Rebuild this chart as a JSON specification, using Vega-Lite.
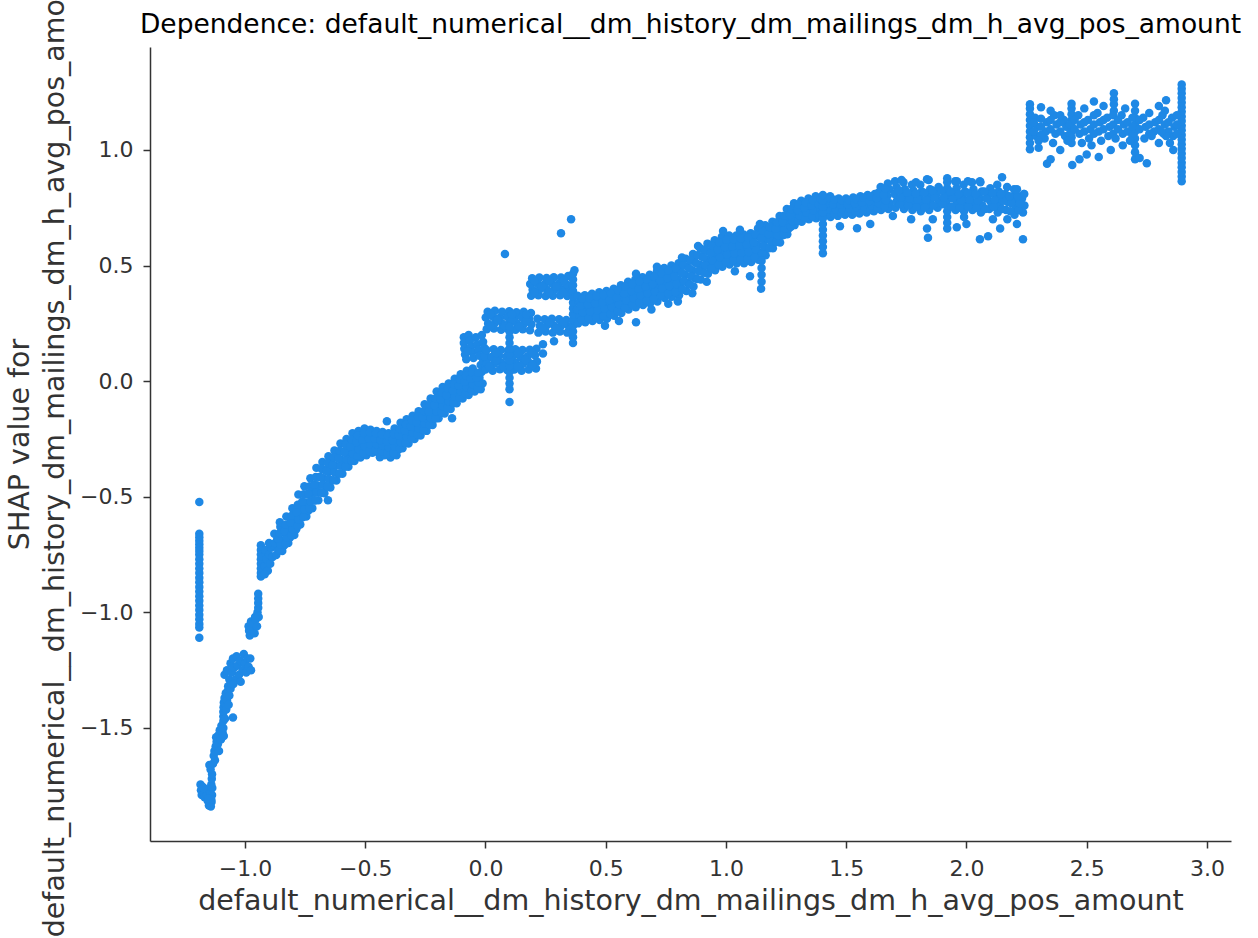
{
  "$schema": "https://vega.github.io/schema/vega-lite/v6.json",
  "width": 1081,
  "height": 794,
  "autosize": {"type": "none"},
  "padding": {"left": 150, "top": 47, "right": 27, "bottom": 97},
  "background": "white",
  "title": {
    "text": "Dependence: default_numerical__dm_history_dm_mailings_dm_h_avg_pos_amount",
    "font": "DejaVu Sans",
    "fontSize": 26.5,
    "fontWeight": "normal",
    "color": "#000000",
    "anchor": "middle",
    "frame": "group",
    "baseline": "bottom",
    "offset": -114
  },
  "data": {
    "values": [
      {"x":-1.19,"y":-0.523},{"x":-1.19,"y":-0.66},{"x":-1.19,"y":-0.675},{"x":-1.19,"y":-0.69},{"x":-1.19,"y":-0.705},{"x":-1.19,"y":-0.72},{"x":-1.19,"y":-0.735},{"x":-1.19,"y":-0.75},{"x":-1.19,"y":-0.77},{"x":-1.19,"y":-0.79},{"x":-1.19,"y":-0.81},{"x":-1.19,"y":-0.83},{"x":-1.19,"y":-0.85},{"x":-1.19,"y":-0.87},{"x":-1.19,"y":-0.89},{"x":-1.19,"y":-0.91},{"x":-1.19,"y":-0.93},{"x":-1.19,"y":-0.95},{"x":-1.19,"y":-0.97},{"x":-1.19,"y":-0.99},{"x":-1.19,"y":-1.01},{"x":-1.19,"y":-1.03},{"x":-1.19,"y":-1.05},{"x":-1.19,"y":-1.065},{"x":-1.19,"y":-1.11},
      {"x":-1.185,"y":-1.745},{"x":-1.183,"y":-1.77},{"x":-1.18,"y":-1.79},{"x":-1.175,"y":-1.755},{"x":-1.17,"y":-1.78},{"x":-1.168,"y":-1.8},{"x":-1.16,"y":-1.765},{"x":-1.158,"y":-1.79},{"x":-1.155,"y":-1.815},{"x":-1.15,"y":-1.835},{"x":-1.148,"y":-1.8},{"x":-1.145,"y":-1.775},{"x":-1.14,"y":-1.745},{"x":-1.138,"y":-1.72},{"x":-1.137,"y":-1.7},{"x":-1.136,"y":-1.76},{"x":-1.137,"y":-1.79},{"x":-1.139,"y":-1.82},{"x":-1.142,"y":-1.84},{"x":-1.14,"y":-1.81},{"x":-1.143,"y":-1.68},{"x":-1.148,"y":-1.66},{"x":-1.152,"y":-1.805},{"x":-1.172,"y":-1.76},
      {"x":-1.13,"y":-1.62},{"x":-1.127,"y":-1.6},{"x":-1.122,"y":-1.58},{"x":-1.118,"y":-1.56},{"x":-1.12,"y":-1.54},{"x":-1.113,"y":-1.57},{"x":-1.11,"y":-1.53},{"x":-1.105,"y":-1.51},{"x":-1.1,"y":-1.55},{"x":-1.098,"y":-1.49},{"x":-1.093,"y":-1.52},{"x":-1.09,"y":-1.5},{"x":-1.088,"y":-1.535},{"x":-1.108,"y":-1.6},{"x":-1.125,"y":-1.64},{"x":-1.133,"y":-1.655},
      {"x":-1.09,"y":-1.47},{"x":-1.09,"y":-1.45},{"x":-1.09,"y":-1.43},{"x":-1.089,"y":-1.41},{"x":-1.088,"y":-1.39},{"x":-1.085,"y":-1.37},{"x":-1.08,"y":-1.35},{"x":-1.075,"y":-1.38},{"x":-1.072,"y":-1.34},{"x":-1.07,"y":-1.32},{"x":-1.065,"y":-1.36},{"x":-1.06,"y":-1.33},{"x":-1.055,"y":-1.31},{"x":-1.05,"y":-1.455},{"x":-1.078,"y":-1.42},{"x":-1.083,"y":-1.46},{"x":-1.068,"y":-1.4},
      {"x":-1.085,"y":-1.27},{"x":-1.075,"y":-1.25},{"x":-1.065,"y":-1.29},{"x":-1.06,"y":-1.22},{"x":-1.055,"y":-1.26},{"x":-1.05,"y":-1.2},{"x":-1.045,"y":-1.24},{"x":-1.04,"y":-1.29},{"x":-1.035,"y":-1.19},{"x":-1.03,"y":-1.23},{"x":-1.025,"y":-1.27},{"x":-1.02,"y":-1.21},{"x":-1.01,"y":-1.25},{"x":-1.005,"y":-1.18},{"x":-1.0,"y":-1.22},{"x":-0.995,"y":-1.26},{"x":-0.99,"y":-1.2},{"x":-0.985,"y":-1.235},{"x":-0.978,"y":-1.2},{"x":-0.975,"y":-1.25},{"x":-1.048,"y":-1.31},{"x":-1.018,"y":-1.3},
      {"x":-0.985,"y":-1.06},{"x":-0.983,"y":-1.08},{"x":-0.98,"y":-1.1},{"x":-0.975,"y":-1.04},{"x":-0.972,"y":-1.07},{"x":-0.965,"y":-1.05},{"x":-0.96,"y":-1.09},{"x":-0.955,"y":-1.03},{"x":-0.95,"y":-1.06},{"x":-0.948,"y":-1.0},{"x":-0.945,"y":-0.98},{"x":-0.943,"y":-1.02},{"x":-0.945,"y":-0.96},{"x":-0.945,"y":-0.94},{"x":-0.945,"y":-0.92},{"x":-0.958,"y":-1.02},
      {"x":-0.934,"y":-0.71},{"x":-0.934,"y":-0.73},{"x":-0.934,"y":-0.75},{"x":-0.934,"y":-0.77},{"x":-0.934,"y":-0.79},{"x":-0.934,"y":-0.81},{"x":-0.934,"y":-0.83},{"x":-0.934,"y":-0.845},{"x":-0.925,"y":-0.76},{"x":-0.92,"y":-0.8},{"x":-0.915,"y":-0.73},{"x":-0.91,"y":-0.77},{"x":-0.905,"y":-0.82},{"x":-0.9,"y":-0.75},{"x":-0.895,"y":-0.79},{"x":-0.89,"y":-0.72},{"x":-0.885,"y":-0.76},{"x":-0.88,"y":-0.71},{"x":-0.918,"y":-0.835},{"x":-0.9,"y":-0.7},
      {"x":-0.87,"y":-0.752},{"x":-0.862,"y":-0.728},{"x":-0.875,"y":-0.7},{"x":-0.866,"y":-0.683},{"x":-0.878,"y":-0.66},
      {"x":-0.845,"y":-0.735},{"x":-0.837,"y":-0.71},{"x":-0.85,"y":-0.688},{"x":-0.841,"y":-0.655},{"x":-0.853,"y":-0.63},{"x":-0.855,"y":-0.61},
      {"x":-0.82,"y":-0.7},{"x":-0.812,"y":-0.675},{"x":-0.825,"y":-0.65},{"x":-0.816,"y":-0.62},{"x":-0.828,"y":-0.585},
      {"x":-0.795,"y":-0.665},{"x":-0.787,"y":-0.64},{"x":-0.8,"y":-0.61},{"x":-0.791,"y":-0.58},{"x":-0.803,"y":-0.55},
      {"x":-0.77,"y":-0.62},{"x":-0.762,"y":-0.59},{"x":-0.775,"y":-0.56},{"x":-0.766,"y":-0.53},{"x":-0.778,"y":-0.49},
      {"x":-0.745,"y":-0.585},{"x":-0.737,"y":-0.56},{"x":-0.75,"y":-0.525},{"x":-0.741,"y":-0.49},{"x":-0.753,"y":-0.455},
      {"x":-0.72,"y":-0.55},{"x":-0.712,"y":-0.515},{"x":-0.725,"y":-0.485},{"x":-0.716,"y":-0.455},{"x":-0.728,"y":-0.42},
      {"x":-0.695,"y":-0.515},{"x":-0.687,"y":-0.48},{"x":-0.7,"y":-0.45},{"x":-0.691,"y":-0.415},{"x":-0.703,"y":-0.375},
      {"x":-0.67,"y":-0.485},{"x":-0.662,"y":-0.455},{"x":-0.675,"y":-0.42},{"x":-0.666,"y":-0.385},{"x":-0.678,"y":-0.35},{"x":-0.655,"y":-0.515},
      {"x":-0.645,"y":-0.46},{"x":-0.637,"y":-0.43},{"x":-0.65,"y":-0.39},{"x":-0.641,"y":-0.355},{"x":-0.653,"y":-0.325},
      {"x":-0.62,"y":-0.43},{"x":-0.612,"y":-0.4},{"x":-0.625,"y":-0.365},{"x":-0.616,"y":-0.33},{"x":-0.628,"y":-0.3},
      {"x":-0.595,"y":-0.4},{"x":-0.587,"y":-0.37},{"x":-0.6,"y":-0.34},{"x":-0.591,"y":-0.305},{"x":-0.603,"y":-0.27},
      {"x":-0.57,"y":-0.37},{"x":-0.562,"y":-0.345},{"x":-0.575,"y":-0.315},{"x":-0.566,"y":-0.285},{"x":-0.578,"y":-0.25},
      {"x":-0.545,"y":-0.345},{"x":-0.537,"y":-0.32},{"x":-0.55,"y":-0.29},{"x":-0.541,"y":-0.26},{"x":-0.553,"y":-0.225},
      {"x":-0.52,"y":-0.33},{"x":-0.512,"y":-0.3},{"x":-0.525,"y":-0.275},{"x":-0.516,"y":-0.245},{"x":-0.528,"y":-0.215},
      {"x":-0.495,"y":-0.32},{"x":-0.487,"y":-0.29},{"x":-0.5,"y":-0.265},{"x":-0.491,"y":-0.235},{"x":-0.503,"y":-0.205},
      {"x":-0.47,"y":-0.31},{"x":-0.462,"y":-0.285},{"x":-0.475,"y":-0.26},{"x":-0.466,"y":-0.235},{"x":-0.478,"y":-0.21},
      {"x":-0.445,"y":-0.31},{"x":-0.437,"y":-0.29},{"x":-0.45,"y":-0.265},{"x":-0.441,"y":-0.24},{"x":-0.453,"y":-0.215},{"x":-0.439,"y":-0.329},
      {"x":-0.42,"y":-0.32},{"x":-0.412,"y":-0.295},{"x":-0.425,"y":-0.27},{"x":-0.416,"y":-0.245},{"x":-0.428,"y":-0.22},{"x":-0.41,"y":-0.173},
      {"x":-0.395,"y":-0.33},{"x":-0.387,"y":-0.3},{"x":-0.4,"y":-0.275},{"x":-0.391,"y":-0.25},{"x":-0.403,"y":-0.225},
      {"x":-0.37,"y":-0.32},{"x":-0.362,"y":-0.295},{"x":-0.375,"y":-0.265},{"x":-0.366,"y":-0.235},{"x":-0.378,"y":-0.205},
      {"x":-0.345,"y":-0.29},{"x":-0.337,"y":-0.265},{"x":-0.35,"y":-0.235},{"x":-0.341,"y":-0.205},{"x":-0.353,"y":-0.18},
      {"x":-0.32,"y":-0.27},{"x":-0.312,"y":-0.245},{"x":-0.325,"y":-0.215},{"x":-0.316,"y":-0.19},{"x":-0.328,"y":-0.165},
      {"x":-0.295,"y":-0.25},{"x":-0.287,"y":-0.225},{"x":-0.3,"y":-0.2},{"x":-0.291,"y":-0.175},{"x":-0.303,"y":-0.15},
      {"x":-0.27,"y":-0.235},{"x":-0.262,"y":-0.21},{"x":-0.275,"y":-0.18},{"x":-0.266,"y":-0.155},{"x":-0.278,"y":-0.13},
      {"x":-0.245,"y":-0.215},{"x":-0.237,"y":-0.185},{"x":-0.25,"y":-0.155},{"x":-0.241,"y":-0.125},{"x":-0.253,"y":-0.1},
      {"x":-0.22,"y":-0.19},{"x":-0.212,"y":-0.16},{"x":-0.225,"y":-0.13},{"x":-0.216,"y":-0.1},{"x":-0.228,"y":-0.075},
      {"x":-0.195,"y":-0.16},{"x":-0.187,"y":-0.13},{"x":-0.2,"y":-0.1},{"x":-0.191,"y":-0.07},{"x":-0.203,"y":-0.045},
      {"x":-0.17,"y":-0.14},{"x":-0.162,"y":-0.11},{"x":-0.175,"y":-0.08},{"x":-0.166,"y":-0.05},{"x":-0.178,"y":-0.025},
      {"x":-0.145,"y":-0.12},{"x":-0.137,"y":-0.09},{"x":-0.15,"y":-0.06},{"x":-0.141,"y":-0.035},{"x":-0.153,"y":-0.01},{"x":-0.139,"y":-0.16},
      {"x":-0.12,"y":-0.095},{"x":-0.112,"y":-0.065},{"x":-0.125,"y":-0.04},{"x":-0.116,"y":-0.015},{"x":-0.128,"y":0.01},
      {"x":-0.095,"y":-0.075},{"x":-0.087,"y":-0.05},{"x":-0.1,"y":-0.02},{"x":-0.091,"y":0.005},{"x":-0.103,"y":0.03},
      {"x":-0.07,"y":-0.06},{"x":-0.062,"y":-0.035},{"x":-0.075,"y":-0.01},{"x":-0.066,"y":0.02},{"x":-0.078,"y":0.045},
      {"x":-0.045,"y":-0.045},{"x":-0.037,"y":-0.02},{"x":-0.05,"y":0.005},{"x":-0.041,"y":0.03},{"x":-0.053,"y":0.055},
      {"x":-0.02,"y":-0.035},{"x":-0.012,"y":-0.01},{"x":-0.025,"y":0.015},{"x":-0.016,"y":0.04},{"x":-0.02,"y":0.07},{"x":-0.01,"y":0.085},{"x":0.0,"y":0.06},
      {"x":-0.8575,"y":-0.731},{"x":-0.8525,"y":-0.707},{"x":-0.8615,"y":-0.682},{"x":-0.8555,"y":-0.657},
      {"x":-0.8325,"y":-0.704},{"x":-0.8275,"y":-0.676},{"x":-0.8365,"y":-0.649},{"x":-0.8305,"y":-0.621},
      {"x":-0.8075,"y":-0.668},{"x":-0.8025,"y":-0.639},{"x":-0.8115,"y":-0.611},{"x":-0.8055,"y":-0.582},
      {"x":-0.7825,"y":-0.627},{"x":-0.7775,"y":-0.597},{"x":-0.7865,"y":-0.566},{"x":-0.7805,"y":-0.535},
      {"x":-0.7575,"y":-0.586},{"x":-0.7525,"y":-0.554},{"x":-0.7615,"y":-0.521},{"x":-0.7555,"y":-0.489},
      {"x":-0.7325,"y":-0.551},{"x":-0.7275,"y":-0.519},{"x":-0.7365,"y":-0.486},{"x":-0.7305,"y":-0.454},
      {"x":-0.7075,"y":-0.516},{"x":-0.7025,"y":-0.482},{"x":-0.7115,"y":-0.448},{"x":-0.7055,"y":-0.414},
      {"x":-0.6825,"y":-0.483},{"x":-0.6775,"y":-0.448},{"x":-0.6865,"y":-0.414},{"x":-0.6805,"y":-0.38},
      {"x":-0.6575,"y":-0.456},{"x":-0.6525,"y":-0.422},{"x":-0.6615,"y":-0.388},{"x":-0.6555,"y":-0.354},
      {"x":-0.6325,"y":-0.428},{"x":-0.6275,"y":-0.395},{"x":-0.6365,"y":-0.362},{"x":-0.6305,"y":-0.329},
      {"x":-0.6075,"y":-0.399},{"x":-0.6025,"y":-0.366},{"x":-0.6115,"y":-0.334},{"x":-0.6055,"y":-0.301},
      {"x":-0.5825,"y":-0.369},{"x":-0.5775,"y":-0.338},{"x":-0.5865,"y":-0.307},{"x":-0.5805,"y":-0.276},
      {"x":-0.5575,"y":-0.343},{"x":-0.5525,"y":-0.313},{"x":-0.5615,"y":-0.283},{"x":-0.5555,"y":-0.253},
      {"x":-0.5325,"y":-0.323},{"x":-0.5275,"y":-0.294},{"x":-0.5365,"y":-0.264},{"x":-0.5305,"y":-0.235},
      {"x":-0.5075,"y":-0.311},{"x":-0.5025,"y":-0.282},{"x":-0.5115,"y":-0.253},{"x":-0.5055,"y":-0.224},
      {"x":-0.4825,"y":-0.302},{"x":-0.4775,"y":-0.275},{"x":-0.4865,"y":-0.248},{"x":-0.4805,"y":-0.221},
      {"x":-0.4575,"y":-0.298},{"x":-0.4525,"y":-0.273},{"x":-0.4615,"y":-0.249},{"x":-0.4555,"y":-0.225},
      {"x":-0.4325,"y":-0.303},{"x":-0.4275,"y":-0.278},{"x":-0.4365,"y":-0.254},{"x":-0.4305,"y":-0.23},
      {"x":-0.4075,"y":-0.312},{"x":-0.4025,"y":-0.287},{"x":-0.4115,"y":-0.261},{"x":-0.4055,"y":-0.235},
      {"x":-0.3825,"y":-0.311},{"x":-0.3775,"y":-0.284},{"x":-0.3865,"y":-0.256},{"x":-0.3805,"y":-0.229},
      {"x":-0.3575,"y":-0.291},{"x":-0.3525,"y":-0.263},{"x":-0.3615,"y":-0.235},{"x":-0.3555,"y":-0.207},
      {"x":-0.3325,"y":-0.267},{"x":-0.3275,"y":-0.24},{"x":-0.3365,"y":-0.213},{"x":-0.3305,"y":-0.186},
      {"x":-0.3075,"y":-0.247},{"x":-0.3025,"y":-0.222},{"x":-0.3115,"y":-0.196},{"x":-0.3055,"y":-0.17},
      {"x":-0.2825,"y":-0.23},{"x":-0.2775,"y":-0.204},{"x":-0.2865,"y":-0.178},{"x":-0.2805,"y":-0.153},
      {"x":-0.2575,"y":-0.211},{"x":-0.2525,"y":-0.184},{"x":-0.2615,"y":-0.156},{"x":-0.2555,"y":-0.129},
      {"x":-0.2325,"y":-0.188},{"x":-0.2275,"y":-0.159},{"x":-0.2365,"y":-0.131},{"x":-0.2305,"y":-0.102},
      {"x":-0.2075,"y":-0.161},{"x":-0.2025,"y":-0.132},{"x":-0.2115,"y":-0.103},{"x":-0.2055,"y":-0.074},
      {"x":-0.1825,"y":-0.136},{"x":-0.1775,"y":-0.107},{"x":-0.1865,"y":-0.078},{"x":-0.1805,"y":-0.049},
      {"x":-0.1575,"y":-0.116},{"x":-0.1525,"y":-0.088},{"x":-0.1615,"y":-0.06},{"x":-0.1555,"y":-0.032},
      {"x":-0.1325,"y":-0.094},{"x":-0.1275,"y":-0.067},{"x":-0.1365,"y":-0.04},{"x":-0.1305,"y":-0.013},
      {"x":-0.1075,"y":-0.072},{"x":-0.1025,"y":-0.046},{"x":-0.1115,"y":-0.019},{"x":-0.1055,"y":0.007},
      {"x":-0.0825,"y":-0.054},{"x":-0.0775,"y":-0.028},{"x":-0.0865,"y":-0.002},{"x":-0.0805,"y":0.024},
      {"x":-0.0575,"y":-0.04},{"x":-0.0525,"y":-0.014},{"x":-0.0615,"y":0.011},{"x":-0.0555,"y":0.037},
      {"x":-0.0325,"y":-0.029},{"x":-0.0275,"y":-0.007},{"x":-0.0365,"y":0.015},{"x":-0.0305,"y":0.037},
      {"x":-0.09,"y":0.19},{"x":-0.09,"y":0.165},{"x":-0.088,"y":0.14},{"x":-0.085,"y":0.115},{"x":-0.08,"y":0.095},{"x":-0.07,"y":0.2},{"x":-0.065,"y":0.175},{"x":-0.06,"y":0.15},{"x":-0.055,"y":0.125},{"x":-0.05,"y":0.1},{"x":-0.04,"y":0.19},{"x":-0.035,"y":0.16},{"x":-0.03,"y":0.135},{"x":-0.025,"y":0.11},{"x":-0.015,"y":0.2},{"x":-0.01,"y":0.17},{"x":-0.005,"y":0.145},{"x":0.0,"y":0.12},{"x":0.003,"y":0.095},{"x":-0.075,"y":0.13},
      {"x":0.0,"y":0.05},{"x":0.006,"y":0.078},{"x":-0.004,"y":0.108},{"x":0.004,"y":0.135},
      {"x":0.03,"y":0.045},{"x":0.036,"y":0.075},{"x":0.026,"y":0.105},{"x":0.034,"y":0.138},
      {"x":0.06,"y":0.052},{"x":0.066,"y":0.08},{"x":0.056,"y":0.11},{"x":0.064,"y":0.135},
      {"x":0.09,"y":0.048},{"x":0.096,"y":0.076},{"x":0.086,"y":0.106},{"x":0.094,"y":0.132},
      {"x":0.12,"y":0.05},{"x":0.126,"y":0.08},{"x":0.116,"y":0.11},{"x":0.124,"y":0.138},
      {"x":0.15,"y":0.045},{"x":0.156,"y":0.075},{"x":0.146,"y":0.105},{"x":0.154,"y":0.135},
      {"x":0.18,"y":0.05},{"x":0.186,"y":0.078},{"x":0.176,"y":0.108},{"x":0.184,"y":0.136},
      {"x":0.21,"y":0.055},{"x":0.214,"y":0.085},{"x":0.206,"y":0.112},{"x":0.212,"y":0.14},
      {"x":0.015,"y":0.063},{"x":0.045,"y":0.09},{"x":0.075,"y":0.065},{"x":0.105,"y":0.093},{"x":0.135,"y":0.064},{"x":0.165,"y":0.092},{"x":0.195,"y":0.07},{"x":0.045,"y":0.122},{"x":0.135,"y":0.122},{"x":0.195,"y":0.124},
      {"x":0.005,"y":0.225},{"x":0.011,"y":0.25},{"x":0.001,"y":0.275},{"x":0.009,"y":0.3},
      {"x":0.035,"y":0.228},{"x":0.041,"y":0.255},{"x":0.031,"y":0.28},{"x":0.039,"y":0.305},
      {"x":0.065,"y":0.222},{"x":0.071,"y":0.248},{"x":0.061,"y":0.275},{"x":0.069,"y":0.3},
      {"x":0.095,"y":0.225},{"x":0.101,"y":0.252},{"x":0.091,"y":0.278},{"x":0.099,"y":0.302},
      {"x":0.125,"y":0.222},{"x":0.131,"y":0.25},{"x":0.121,"y":0.275},{"x":0.129,"y":0.298},
      {"x":0.155,"y":0.225},{"x":0.161,"y":0.25},{"x":0.151,"y":0.276},{"x":0.159,"y":0.3},
      {"x":0.185,"y":0.22},{"x":0.191,"y":0.246},{"x":0.181,"y":0.27},{"x":0.189,"y":0.295},
      {"x":0.02,"y":0.238},{"x":0.05,"y":0.265},{"x":0.08,"y":0.238},{"x":0.11,"y":0.265},{"x":0.14,"y":0.238},{"x":0.17,"y":0.262},{"x":0.02,"y":0.29},{"x":0.11,"y":0.29},{"x":0.17,"y":0.288},
      {"x":0.22,"y":0.21},{"x":0.226,"y":0.24},{"x":0.216,"y":0.27},
      {"x":0.25,"y":0.215},{"x":0.256,"y":0.243},{"x":0.246,"y":0.268},
      {"x":0.28,"y":0.21},{"x":0.286,"y":0.24},{"x":0.276,"y":0.27},
      {"x":0.31,"y":0.215},{"x":0.316,"y":0.242},{"x":0.306,"y":0.268},
      {"x":0.34,"y":0.21},{"x":0.346,"y":0.238},{"x":0.336,"y":0.265},
      {"x":0.235,"y":0.228},{"x":0.265,"y":0.255},{"x":0.295,"y":0.228},{"x":0.325,"y":0.255},{"x":0.352,"y":0.225},
      {"x":0.19,"y":0.37},{"x":0.196,"y":0.395},{"x":0.186,"y":0.42},{"x":0.194,"y":0.445},
      {"x":0.22,"y":0.372},{"x":0.226,"y":0.398},{"x":0.216,"y":0.422},{"x":0.224,"y":0.448},
      {"x":0.25,"y":0.368},{"x":0.256,"y":0.394},{"x":0.246,"y":0.42},{"x":0.254,"y":0.446},
      {"x":0.28,"y":0.37},{"x":0.286,"y":0.396},{"x":0.276,"y":0.422},{"x":0.284,"y":0.45},
      {"x":0.31,"y":0.372},{"x":0.316,"y":0.398},{"x":0.306,"y":0.424},{"x":0.314,"y":0.448},
      {"x":0.34,"y":0.368},{"x":0.346,"y":0.395},{"x":0.336,"y":0.42},{"x":0.344,"y":0.455},
      {"x":0.205,"y":0.383},{"x":0.235,"y":0.41},{"x":0.265,"y":0.383},{"x":0.295,"y":0.41},{"x":0.325,"y":0.383},{"x":0.205,"y":0.433},{"x":0.265,"y":0.435},{"x":0.325,"y":0.436},
      {"x":0.364,"y":0.165},{"x":0.364,"y":0.19},{"x":0.364,"y":0.215},{"x":0.364,"y":0.24},{"x":0.364,"y":0.265},{"x":0.364,"y":0.29},{"x":0.364,"y":0.315},{"x":0.364,"y":0.34},{"x":0.364,"y":0.365},{"x":0.364,"y":0.39},{"x":0.364,"y":0.415},{"x":0.364,"y":0.44},{"x":0.364,"y":0.465},{"x":0.37,"y":0.48},
      {"x":0.1,"y":-0.09},{"x":0.1,"y":-0.035},{"x":0.1,"y":-0.01},{"x":0.1,"y":0.015},{"x":0.1,"y":0.04},{"x":0.1,"y":0.065},{"x":0.1,"y":0.09},{"x":0.1,"y":0.115},{"x":0.1,"y":0.14},{"x":0.1,"y":0.165},{"x":0.1,"y":0.19},{"x":0.1,"y":0.215},{"x":0.1,"y":0.235},
      {"x":0.081,"y":0.55},{"x":0.314,"y":0.64},{"x":0.356,"y":0.7},{"x":0.239,"y":0.16},{"x":0.239,"y":0.12},{"x":0.285,"y":0.173},
      {"x":0.385,"y":0.25},{"x":0.391,"y":0.28},{"x":0.381,"y":0.31},{"x":0.389,"y":0.34},{"x":0.383,"y":0.37},
      {"x":0.415,"y":0.255},{"x":0.421,"y":0.285},{"x":0.411,"y":0.315},{"x":0.419,"y":0.345},{"x":0.413,"y":0.372},
      {"x":0.445,"y":0.26},{"x":0.451,"y":0.29},{"x":0.441,"y":0.32},{"x":0.449,"y":0.35},{"x":0.443,"y":0.378},
      {"x":0.475,"y":0.265},{"x":0.481,"y":0.295},{"x":0.471,"y":0.325},{"x":0.479,"y":0.355},{"x":0.473,"y":0.385},
      {"x":0.505,"y":0.27},{"x":0.511,"y":0.3},{"x":0.501,"y":0.33},{"x":0.509,"y":0.36},{"x":0.503,"y":0.39},
      {"x":0.535,"y":0.283},{"x":0.541,"y":0.31},{"x":0.531,"y":0.34},{"x":0.539,"y":0.37},{"x":0.533,"y":0.4},
      {"x":0.565,"y":0.295},{"x":0.571,"y":0.325},{"x":0.561,"y":0.355},{"x":0.569,"y":0.385},{"x":0.563,"y":0.415},
      {"x":0.595,"y":0.31},{"x":0.601,"y":0.34},{"x":0.591,"y":0.37},{"x":0.599,"y":0.4},{"x":0.593,"y":0.43},
      {"x":0.625,"y":0.32},{"x":0.631,"y":0.35},{"x":0.621,"y":0.38},{"x":0.629,"y":0.41},{"x":0.623,"y":0.44},
      {"x":0.655,"y":0.33},{"x":0.661,"y":0.36},{"x":0.651,"y":0.39},{"x":0.659,"y":0.42},{"x":0.653,"y":0.45},
      {"x":0.685,"y":0.337},{"x":0.691,"y":0.37},{"x":0.681,"y":0.4},{"x":0.689,"y":0.43},{"x":0.683,"y":0.46},
      {"x":0.715,"y":0.345},{"x":0.721,"y":0.38},{"x":0.711,"y":0.41},{"x":0.719,"y":0.44},{"x":0.713,"y":0.475},
      {"x":0.745,"y":0.36},{"x":0.751,"y":0.39},{"x":0.741,"y":0.42},{"x":0.749,"y":0.455},{"x":0.743,"y":0.49},
      {"x":0.775,"y":0.365},{"x":0.781,"y":0.4},{"x":0.771,"y":0.43},{"x":0.779,"y":0.465},{"x":0.773,"y":0.5},
      {"x":0.805,"y":0.372},{"x":0.811,"y":0.41},{"x":0.801,"y":0.44},{"x":0.809,"y":0.475},{"x":0.803,"y":0.51},
      {"x":0.835,"y":0.39},{"x":0.841,"y":0.425},{"x":0.831,"y":0.46},{"x":0.839,"y":0.495},{"x":0.833,"y":0.53},
      {"x":0.865,"y":0.41},{"x":0.871,"y":0.445},{"x":0.861,"y":0.48},{"x":0.869,"y":0.515},{"x":0.863,"y":0.55},
      {"x":0.895,"y":0.44},{"x":0.901,"y":0.475},{"x":0.891,"y":0.505},{"x":0.899,"y":0.54},{"x":0.893,"y":0.575},
      {"x":0.925,"y":0.465},{"x":0.931,"y":0.495},{"x":0.921,"y":0.525},{"x":0.929,"y":0.56},{"x":0.923,"y":0.595},
      {"x":0.955,"y":0.48},{"x":0.961,"y":0.51},{"x":0.951,"y":0.54},{"x":0.959,"y":0.575},{"x":0.953,"y":0.61},
      {"x":0.985,"y":0.495},{"x":0.991,"y":0.525},{"x":0.981,"y":0.555},{"x":0.989,"y":0.59},{"x":0.983,"y":0.625},
      {"x":1.015,"y":0.505},{"x":1.021,"y":0.535},{"x":1.011,"y":0.565},{"x":1.019,"y":0.6},{"x":1.013,"y":0.63},
      {"x":1.045,"y":0.51},{"x":1.051,"y":0.54},{"x":1.041,"y":0.57},{"x":1.049,"y":0.6},{"x":1.043,"y":0.63},
      {"x":1.075,"y":0.51},{"x":1.081,"y":0.54},{"x":1.071,"y":0.575},{"x":1.079,"y":0.605},{"x":1.073,"y":0.635},
      {"x":1.105,"y":0.515},{"x":1.111,"y":0.545},{"x":1.101,"y":0.58},{"x":1.109,"y":0.61},{"x":1.103,"y":0.64},
      {"x":1.135,"y":0.525},{"x":1.141,"y":0.555},{"x":1.131,"y":0.59},{"x":1.139,"y":0.625},{"x":1.133,"y":0.66},
      {"x":1.165,"y":0.545},{"x":1.171,"y":0.575},{"x":1.161,"y":0.61},{"x":1.169,"y":0.64},{"x":1.163,"y":0.675},
      {"x":1.195,"y":0.575},{"x":1.201,"y":0.605},{"x":1.191,"y":0.635},{"x":1.199,"y":0.665},{"x":1.193,"y":0.69},
      {"x":1.225,"y":0.6},{"x":1.231,"y":0.63},{"x":1.221,"y":0.66},{"x":1.229,"y":0.69},{"x":1.223,"y":0.715},
      {"x":1.255,"y":0.635},{"x":1.261,"y":0.66},{"x":1.251,"y":0.69},{"x":1.259,"y":0.715},{"x":1.253,"y":0.745},
      {"x":1.285,"y":0.675},{"x":1.291,"y":0.7},{"x":1.281,"y":0.725},{"x":1.289,"y":0.75},{"x":1.283,"y":0.77},
      {"x":1.315,"y":0.69},{"x":1.321,"y":0.715},{"x":1.311,"y":0.74},{"x":1.319,"y":0.765},{"x":1.313,"y":0.78},
      {"x":1.345,"y":0.7},{"x":1.351,"y":0.725},{"x":1.341,"y":0.75},{"x":1.349,"y":0.77},{"x":1.343,"y":0.79},
      {"x":1.375,"y":0.705},{"x":1.381,"y":0.73},{"x":1.371,"y":0.755},{"x":1.379,"y":0.78},{"x":1.373,"y":0.8},
      {"x":1.435,"y":0.71},{"x":1.441,"y":0.735},{"x":1.431,"y":0.76},{"x":1.439,"y":0.785},{"x":1.433,"y":0.8},
      {"x":1.465,"y":0.715},{"x":1.471,"y":0.74},{"x":1.461,"y":0.765},{"x":1.469,"y":0.79},
      {"x":1.495,"y":0.72},{"x":1.501,"y":0.745},{"x":1.491,"y":0.77},{"x":1.499,"y":0.79},
      {"x":1.525,"y":0.72},{"x":1.531,"y":0.745},{"x":1.521,"y":0.77},{"x":1.529,"y":0.795},
      {"x":1.555,"y":0.725},{"x":1.561,"y":0.75},{"x":1.551,"y":0.775},{"x":1.559,"y":0.8},
      {"x":1.585,"y":0.73},{"x":1.591,"y":0.755},{"x":1.581,"y":0.78},{"x":1.589,"y":0.805},
      {"x":1.615,"y":0.735},{"x":1.621,"y":0.76},{"x":1.611,"y":0.785},{"x":1.619,"y":0.81},
      {"x":1.645,"y":0.74},{"x":1.651,"y":0.765},{"x":1.641,"y":0.79},{"x":1.649,"y":0.82},{"x":1.643,"y":0.84},
      {"x":1.675,"y":0.745},{"x":1.681,"y":0.77},{"x":1.671,"y":0.8},{"x":1.679,"y":0.83},{"x":1.673,"y":0.855},
      {"x":0.4,"y":0.267},{"x":0.405,"y":0.297},{"x":0.396,"y":0.326},{"x":0.402,"y":0.356},
      {"x":0.43,"y":0.272},{"x":0.435,"y":0.302},{"x":0.426,"y":0.331},{"x":0.432,"y":0.36},
      {"x":0.46,"y":0.277},{"x":0.465,"y":0.307},{"x":0.456,"y":0.337},{"x":0.462,"y":0.367},
      {"x":0.49,"y":0.283},{"x":0.495,"y":0.313},{"x":0.486,"y":0.343},{"x":0.492,"y":0.373},
      {"x":0.52,"y":0.291},{"x":0.525,"y":0.321},{"x":0.516,"y":0.351},{"x":0.522,"y":0.38},
      {"x":0.55,"y":0.304},{"x":0.555,"y":0.333},{"x":0.546,"y":0.363},{"x":0.552,"y":0.393},
      {"x":0.58,"y":0.318},{"x":0.585,"y":0.348},{"x":0.576,"y":0.378},{"x":0.582,"y":0.408},
      {"x":0.61,"y":0.33},{"x":0.615,"y":0.36},{"x":0.606,"y":0.39},{"x":0.612,"y":0.42},
      {"x":0.64,"y":0.34},{"x":0.645,"y":0.37},{"x":0.636,"y":0.4},{"x":0.642,"y":0.43},
      {"x":0.67,"y":0.349},{"x":0.675,"y":0.379},{"x":0.666,"y":0.409},{"x":0.672,"y":0.44},
      {"x":0.7,"y":0.357},{"x":0.705,"y":0.388},{"x":0.696,"y":0.42},{"x":0.702,"y":0.452},
      {"x":0.73,"y":0.369},{"x":0.735,"y":0.401},{"x":0.726,"y":0.434},{"x":0.732,"y":0.466},
      {"x":0.76,"y":0.379},{"x":0.765,"y":0.412},{"x":0.756,"y":0.445},{"x":0.762,"y":0.478},
      {"x":0.79,"y":0.386},{"x":0.795,"y":0.42},{"x":0.786,"y":0.454},{"x":0.792,"y":0.488},
      {"x":0.82,"y":0.398},{"x":0.825,"y":0.433},{"x":0.816,"y":0.468},{"x":0.822,"y":0.503},
      {"x":0.85,"y":0.418},{"x":0.855,"y":0.453},{"x":0.846,"y":0.488},{"x":0.852,"y":0.523},
      {"x":0.88,"y":0.442},{"x":0.885,"y":0.477},{"x":0.876,"y":0.511},{"x":0.882,"y":0.545},
      {"x":0.91,"y":0.469},{"x":0.915,"y":0.502},{"x":0.906,"y":0.535},{"x":0.912,"y":0.568},
      {"x":0.94,"y":0.489},{"x":0.945,"y":0.521},{"x":0.936,"y":0.554},{"x":0.942,"y":0.586},
      {"x":0.97,"y":0.504},{"x":0.975,"y":0.536},{"x":0.966,"y":0.569},{"x":0.972,"y":0.601},
      {"x":1.0,"y":0.516},{"x":1.005,"y":0.548},{"x":0.996,"y":0.58},{"x":1.002,"y":0.612},
      {"x":1.03,"y":0.523},{"x":1.035,"y":0.553},{"x":1.026,"y":0.584},{"x":1.032,"y":0.615},
      {"x":1.06,"y":0.525},{"x":1.065,"y":0.556},{"x":1.056,"y":0.587},{"x":1.062,"y":0.617},
      {"x":1.09,"y":0.528},{"x":1.095,"y":0.559},{"x":1.086,"y":0.591},{"x":1.092,"y":0.622},
      {"x":1.12,"y":0.536},{"x":1.125,"y":0.569},{"x":1.116,"y":0.601},{"x":1.122,"y":0.634},
      {"x":1.15,"y":0.552},{"x":1.155,"y":0.585},{"x":1.146,"y":0.618},{"x":1.152,"y":0.651},
      {"x":1.18,"y":0.575},{"x":1.185,"y":0.606},{"x":1.176,"y":0.637},{"x":1.182,"y":0.667},
      {"x":1.21,"y":0.602},{"x":1.215,"y":0.631},{"x":1.206,"y":0.659},{"x":1.212,"y":0.688},
      {"x":1.24,"y":0.632},{"x":1.245,"y":0.66},{"x":1.236,"y":0.688},{"x":1.242,"y":0.716},
      {"x":1.27,"y":0.668},{"x":1.275,"y":0.693},{"x":1.266,"y":0.719},{"x":1.272,"y":0.745},
      {"x":1.3,"y":0.694},{"x":1.305,"y":0.717},{"x":1.296,"y":0.74},{"x":1.302,"y":0.763},
      {"x":1.33,"y":0.706},{"x":1.335,"y":0.729},{"x":1.326,"y":0.751},{"x":1.332,"y":0.774},
      {"x":1.36,"y":0.714},{"x":1.365,"y":0.737},{"x":1.356,"y":0.76},{"x":1.362,"y":0.783},
      {"x":1.39,"y":0.718},{"x":1.395,"y":0.742},{"x":1.386,"y":0.765},{"x":1.392,"y":0.788},
      {"x":1.42,"y":0.72},{"x":1.425,"y":0.743},{"x":1.416,"y":0.766},{"x":1.422,"y":0.789},
      {"x":1.45,"y":0.723},{"x":1.455,"y":0.744},{"x":1.446,"y":0.764},{"x":1.452,"y":0.785},
      {"x":1.48,"y":0.727},{"x":1.485,"y":0.745},{"x":1.476,"y":0.763},{"x":1.482,"y":0.781},
      {"x":1.51,"y":0.729},{"x":1.515,"y":0.747},{"x":1.506,"y":0.765},{"x":1.512,"y":0.783},
      {"x":1.54,"y":0.732},{"x":1.545,"y":0.751},{"x":1.536,"y":0.77},{"x":1.542,"y":0.788},
      {"x":1.57,"y":0.737},{"x":1.575,"y":0.756},{"x":1.566,"y":0.774},{"x":1.572,"y":0.793},
      {"x":1.6,"y":0.742},{"x":1.605,"y":0.761},{"x":1.596,"y":0.779},{"x":1.602,"y":0.798},
      {"x":1.63,"y":0.748},{"x":1.635,"y":0.77},{"x":1.626,"y":0.792},{"x":1.632,"y":0.814},
      {"x":1.66,"y":0.756},{"x":1.665,"y":0.782},{"x":1.656,"y":0.808},{"x":1.662,"y":0.834},
      {"x":1.403,"y":0.553},{"x":1.403,"y":0.58},{"x":1.403,"y":0.605},{"x":1.403,"y":0.63},{"x":1.403,"y":0.655},{"x":1.403,"y":0.68},{"x":1.403,"y":0.705},{"x":1.403,"y":0.73},{"x":1.403,"y":0.755},{"x":1.403,"y":0.78},{"x":1.403,"y":0.805},
      {"x":1.148,"y":0.43},{"x":1.148,"y":0.46},{"x":1.148,"y":0.49},{"x":1.148,"y":0.52},{"x":1.146,"y":0.4},
      {"x":0.497,"y":0.24},{"x":0.626,"y":0.255},{"x":0.555,"y":0.26},{"x":0.69,"y":0.31},{"x":0.8,"y":0.345},{"x":0.86,"y":0.38},{"x":0.92,"y":0.43},{"x":1.037,"y":0.476},{"x":1.1,"y":0.454},{"x":0.76,"y":0.335},
      {"x":0.626,"y":0.465},{"x":0.713,"y":0.495},{"x":0.817,"y":0.535},{"x":0.884,"y":0.585},{"x":0.988,"y":0.65},{"x":1.058,"y":0.655},{"x":1.141,"y":0.68},
      {"x":1.474,"y":0.67},{"x":1.545,"y":0.662},{"x":1.6,"y":0.68},{"x":1.694,"y":0.714},
      {"x":1.705,"y":0.75},{"x":1.711,"y":0.78},{"x":1.701,"y":0.81},{"x":1.709,"y":0.84},{"x":1.703,"y":0.865},
      {"x":1.74,"y":0.745},{"x":1.746,"y":0.775},{"x":1.736,"y":0.8},{"x":1.744,"y":0.83},{"x":1.738,"y":0.86},
      {"x":1.775,"y":0.74},{"x":1.781,"y":0.77},{"x":1.771,"y":0.795},{"x":1.779,"y":0.825},{"x":1.773,"y":0.85},
      {"x":1.81,"y":0.735},{"x":1.816,"y":0.765},{"x":1.806,"y":0.79},{"x":1.814,"y":0.82},{"x":1.808,"y":0.85},
      {"x":1.845,"y":0.74},{"x":1.851,"y":0.77},{"x":1.841,"y":0.8},{"x":1.849,"y":0.83},{"x":1.843,"y":0.87},
      {"x":1.88,"y":0.75},{"x":1.886,"y":0.78},{"x":1.876,"y":0.81},{"x":1.884,"y":0.84},
      {"x":1.92,"y":0.66},{"x":1.92,"y":0.685},{"x":1.92,"y":0.71},{"x":1.92,"y":0.735},{"x":1.92,"y":0.76},{"x":1.92,"y":0.785},{"x":1.92,"y":0.81},{"x":1.92,"y":0.835},{"x":1.92,"y":0.86},{"x":1.92,"y":0.878},
      {"x":1.955,"y":0.74},{"x":1.961,"y":0.77},{"x":1.951,"y":0.8},{"x":1.959,"y":0.835},{"x":1.953,"y":0.865},
      {"x":1.99,"y":0.735},{"x":1.996,"y":0.76},{"x":1.986,"y":0.79},{"x":1.994,"y":0.82},{"x":1.988,"y":0.85},
      {"x":2.025,"y":0.74},{"x":2.031,"y":0.77},{"x":2.021,"y":0.8},{"x":2.029,"y":0.83},{"x":2.023,"y":0.86},
      {"x":2.06,"y":0.73},{"x":2.066,"y":0.76},{"x":2.056,"y":0.79},{"x":2.064,"y":0.82},{"x":2.058,"y":0.86},
      {"x":2.095,"y":0.745},{"x":2.101,"y":0.775},{"x":2.091,"y":0.805},{"x":2.099,"y":0.835},
      {"x":2.13,"y":0.73},{"x":2.136,"y":0.76},{"x":2.126,"y":0.79},{"x":2.134,"y":0.82},{"x":2.128,"y":0.85},
      {"x":2.165,"y":0.74},{"x":2.171,"y":0.775},{"x":2.161,"y":0.81},{"x":2.169,"y":0.84},
      {"x":2.2,"y":0.72},{"x":2.206,"y":0.75},{"x":2.196,"y":0.78},{"x":2.204,"y":0.81},{"x":2.198,"y":0.83},
      {"x":2.235,"y":0.73},{"x":2.241,"y":0.76},{"x":2.231,"y":0.79},{"x":2.239,"y":0.81},
      {"x":1.7225,"y":0.765},{"x":1.7275,"y":0.795},{"x":1.7185,"y":0.825},
      {"x":1.7575,"y":0.76},{"x":1.7625,"y":0.79},{"x":1.7535,"y":0.815},
      {"x":1.7925,"y":0.755},{"x":1.7975,"y":0.785},{"x":1.7885,"y":0.812},
      {"x":1.8275,"y":0.752},{"x":1.8325,"y":0.785},{"x":1.8235,"y":0.815},
      {"x":1.8625,"y":0.76},{"x":1.8675,"y":0.795},{"x":1.8585,"y":0.825},
      {"x":1.9,"y":0.765},{"x":1.905,"y":0.795},{"x":1.896,"y":0.825},
      {"x":1.9375,"y":0.755},{"x":1.9425,"y":0.79},{"x":1.9335,"y":0.82},
      {"x":1.9725,"y":0.75},{"x":1.9775,"y":0.78},{"x":1.9685,"y":0.81},
      {"x":2.0075,"y":0.755},{"x":2.0125,"y":0.785},{"x":2.0035,"y":0.815},
      {"x":2.0425,"y":0.75},{"x":2.0475,"y":0.78},{"x":2.0385,"y":0.81},
      {"x":2.0775,"y":0.745},{"x":2.0825,"y":0.79},{"x":2.0735,"y":0.82},
      {"x":2.1125,"y":0.755},{"x":2.1175,"y":0.785},{"x":2.1085,"y":0.815},
      {"x":2.1475,"y":0.745},{"x":2.1525,"y":0.78},{"x":2.1435,"y":0.81},
      {"x":2.1825,"y":0.735},{"x":2.1875,"y":0.77},{"x":2.1785,"y":0.8},
      {"x":2.2175,"y":0.74},{"x":2.2225,"y":0.77},{"x":2.2135,"y":0.8},
      {"x":1.84,"y":0.62},{"x":1.836,"y":0.66},{"x":1.96,"y":0.666},{"x":2.0,"y":0.68},{"x":2.056,"y":0.614},{"x":2.09,"y":0.627},{"x":2.14,"y":0.66},{"x":2.21,"y":0.68},{"x":2.235,"y":0.614},{"x":1.77,"y":0.7},{"x":1.86,"y":0.7},{"x":2.11,"y":0.7},{"x":2.17,"y":0.7},{"x":1.99,"y":0.71},
      {"x":1.73,"y":0.87},{"x":1.79,"y":0.86},{"x":1.836,"y":0.873},{"x":1.96,"y":0.865},{"x":2.006,"y":0.865},{"x":2.056,"y":0.865},{"x":2.148,"y":0.882},{"x":2.21,"y":0.83},{"x":2.24,"y":0.81},
      {"x":2.264,"y":1.003},{"x":2.264,"y":1.03},{"x":2.264,"y":1.055},{"x":2.264,"y":1.08},{"x":2.264,"y":1.105},{"x":2.264,"y":1.13},{"x":2.264,"y":1.155},{"x":2.264,"y":1.18},{"x":2.264,"y":1.198},
      {"x":2.437,"y":1.03},{"x":2.437,"y":1.055},{"x":2.437,"y":1.08},{"x":2.437,"y":1.105},{"x":2.437,"y":1.13},{"x":2.437,"y":1.155},{"x":2.437,"y":1.18},{"x":2.437,"y":1.2},
      {"x":2.701,"y":0.96},{"x":2.701,"y":0.99},{"x":2.701,"y":1.02},{"x":2.701,"y":1.05},{"x":2.701,"y":1.08},{"x":2.701,"y":1.11},{"x":2.701,"y":1.14},{"x":2.701,"y":1.17},{"x":2.701,"y":1.2},
      {"x":2.613,"y":1.17},{"x":2.613,"y":1.198},{"x":2.613,"y":1.22},{"x":2.613,"y":1.245},
      {"x":2.895,"y":0.865},{"x":2.895,"y":0.885},{"x":2.895,"y":0.905},{"x":2.895,"y":0.925},{"x":2.895,"y":0.945},{"x":2.895,"y":0.965},{"x":2.895,"y":0.985},{"x":2.895,"y":1.005},{"x":2.895,"y":1.025},{"x":2.895,"y":1.045},{"x":2.895,"y":1.065},{"x":2.895,"y":1.085},{"x":2.895,"y":1.105},{"x":2.895,"y":1.125},{"x":2.895,"y":1.145},{"x":2.895,"y":1.165},{"x":2.895,"y":1.185},{"x":2.895,"y":1.205},{"x":2.895,"y":1.225},{"x":2.895,"y":1.245},{"x":2.895,"y":1.265},{"x":2.895,"y":1.283},
      {"x":2.29,"y":1.06},{"x":2.295,"y":1.1},{"x":2.285,"y":1.14},
      {"x":2.33,"y":1.08},{"x":2.335,"y":1.12},{"x":2.325,"y":1.05},
      {"x":2.37,"y":1.07},{"x":2.375,"y":1.11},{"x":2.365,"y":1.15},
      {"x":2.41,"y":1.06},{"x":2.415,"y":1.1},{"x":2.405,"y":1.13},
      {"x":2.47,"y":1.07},{"x":2.475,"y":1.11},{"x":2.465,"y":1.15},
      {"x":2.51,"y":1.05},{"x":2.515,"y":1.09},{"x":2.505,"y":1.13},
      {"x":2.55,"y":1.08},{"x":2.555,"y":1.12},{"x":2.545,"y":1.16},
      {"x":2.59,"y":1.06},{"x":2.595,"y":1.1},{"x":2.585,"y":1.14},
      {"x":2.65,"y":1.07},{"x":2.655,"y":1.11},{"x":2.645,"y":1.15},
      {"x":2.74,"y":1.05},{"x":2.745,"y":1.1},{"x":2.735,"y":1.14},
      {"x":2.78,"y":1.08},{"x":2.785,"y":1.12},
      {"x":2.82,"y":1.07},{"x":2.825,"y":1.11},{"x":2.815,"y":1.15},
      {"x":2.86,"y":1.06},{"x":2.865,"y":1.1},{"x":2.855,"y":1.14},
      {"x":2.28,"y":1.08},{"x":2.28,"y":1.12},{"x":2.31,"y":1.065},{"x":2.31,"y":1.1},{"x":2.31,"y":1.135},{"x":2.35,"y":1.09},{"x":2.35,"y":1.13},{"x":2.39,"y":1.08},{"x":2.39,"y":1.12},{"x":2.39,"y":1.15},{"x":2.43,"y":1.07},{"x":2.43,"y":1.11},{"x":2.45,"y":1.09},{"x":2.45,"y":1.13},{"x":2.49,"y":1.08},{"x":2.49,"y":1.12},{"x":2.53,"y":1.07},{"x":2.53,"y":1.11},{"x":2.53,"y":1.15},{"x":2.57,"y":1.09},{"x":2.57,"y":1.13},{"x":2.61,"y":1.07},{"x":2.61,"y":1.11},{"x":2.61,"y":1.15},{"x":2.63,"y":1.09},{"x":2.63,"y":1.13},{"x":2.67,"y":1.08},{"x":2.67,"y":1.12},{"x":2.69,"y":1.06},{"x":2.69,"y":1.1},{"x":2.69,"y":1.14},{"x":2.72,"y":1.09},{"x":2.72,"y":1.13},{"x":2.76,"y":1.07},{"x":2.76,"y":1.11},{"x":2.8,"y":1.09},{"x":2.8,"y":1.13},{"x":2.84,"y":1.08},{"x":2.84,"y":1.12},{"x":2.875,"y":1.07},{"x":2.875,"y":1.11},{"x":2.875,"y":1.15},
      {"x":2.3,"y":1.04},{"x":2.36,"y":1.03},{"x":2.42,"y":1.04},{"x":2.48,"y":1.03},{"x":2.56,"y":1.04},{"x":2.62,"y":1.05},{"x":2.68,"y":1.04},{"x":2.77,"y":1.06},{"x":2.83,"y":1.06},
      {"x":2.31,"y":1.185},{"x":2.53,"y":1.21},{"x":2.83,"y":1.215},{"x":2.8,"y":1.19},{"x":2.35,"y":1.17},{"x":2.49,"y":1.18},{"x":2.57,"y":1.19},{"x":2.66,"y":1.18},{"x":2.76,"y":1.16},{"x":2.825,"y":1.17},
      {"x":2.335,"y":0.94},{"x":2.35,"y":0.96},{"x":2.44,"y":0.935},{"x":2.47,"y":0.96},{"x":2.5,"y":0.98},{"x":2.55,"y":0.97},{"x":2.6,"y":1.0},{"x":2.75,"y":0.943},{"x":2.72,"y":0.965},{"x":2.3,"y":1.01},{"x":2.39,"y":1.0},{"x":2.52,"y":1.02},{"x":2.65,"y":1.02},{"x":2.8,"y":1.03},{"x":2.846,"y":1.03},{"x":2.86,"y":1.0},{"x":2.81,"y":1.08}
    ]
  },
  "mark": {"type": "circle", "size": 72, "color": "#1E88E5", "opacity": 1, "strokeWidth": 0},
  "encoding": {
    "x": {
      "field": "x",
      "type": "quantitative",
      "scale": {"domain": [-1.395, 3.1], "nice": false, "zero": false},
      "axis": {
        "title": "default_numerical__dm_history_dm_mailings_dm_h_avg_pos_amount",
        "values": [-1, -0.5, 0, 0.5, 1, 1.5, 2, 2.5, 3],
        "format": ".1f",
        "titlePadding": 7
      }
    },
    "y": {
      "field": "y",
      "type": "quantitative",
      "scale": {"domain": [-1.989, 1.4455], "nice": false, "zero": false},
      "axis": {
        "title": ["SHAP value for", "default_numerical__dm_history_dm_mailings_dm_h_avg_pos_amount"],
        "values": [-1.5, -1, -0.5, 0, 0.5, 1],
        "format": ".1f",
        "titlePadding": 10,
        "titleLineHeight": 35
      }
    }
  },
  "config": {
    "view": {"stroke": null},
    "axis": {
      "grid": false,
      "domainColor": "#333333",
      "domainWidth": 1.5,
      "tickColor": "#333333",
      "tickWidth": 1.5,
      "tickSize": 7,
      "labelPadding": 10,
      "labelFont": "DejaVu Sans",
      "labelFontSize": 22,
      "labelColor": "#333333",
      "titleFont": "DejaVu Sans",
      "titleFontSize": 28.5,
      "titleFontWeight": "normal",
      "titleColor": "#333333"
    }
  }
}
